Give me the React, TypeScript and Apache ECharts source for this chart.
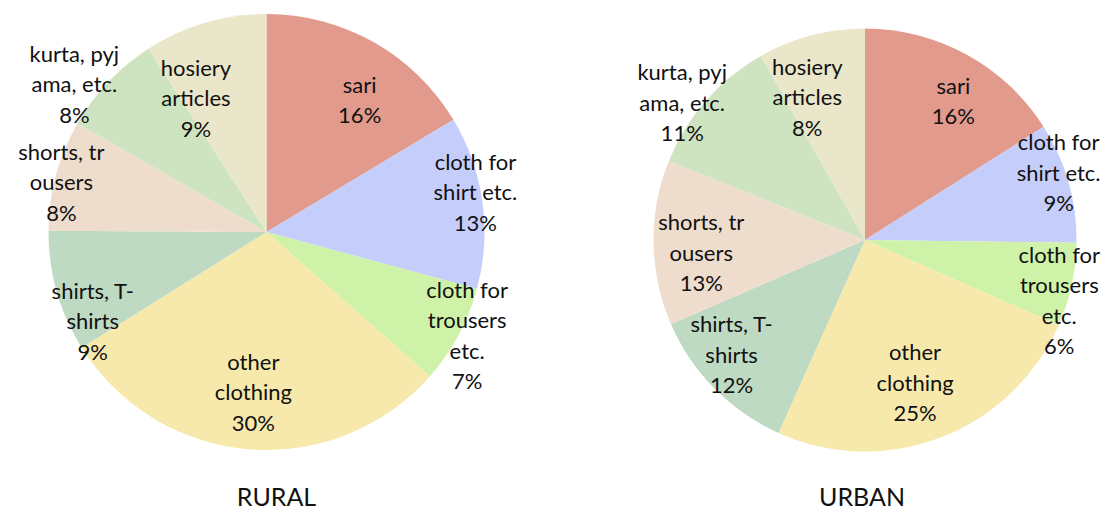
import React, { useEffect, useRef } from "react";
import * as echarts from "echarts";

const categories = [
  "sari",
  "cloth for shirt etc.",
  "cloth for trousers etc.",
  "other clothing",
  "shirts, T-shirts",
  "shorts, trousers",
  "kurta, pyjama, etc.",
  "hosiery articles",
];
// label text as wrapped in the reference
const labelLines = [
  ["sari"],
  ["cloth for", "shirt etc."],
  ["cloth for", "trousers", "etc."],
  ["other", "clothing"],
  ["shirts, T-", "shirts"],
  ["shorts, tr", "ousers"],
  ["kurta, pyj", "ama, etc."],
  ["hosiery", "articles"],
];
const ruralValues = [16.4, 12.8, 7.3, 29.6, 9.0, 8.2, 7.6, 9.1];
const urbanValues = [16.0, 9.2, 6.4, 25.1, 11.8, 12.6, 10.7, 8.2];
const colors = [
  "#E19A8C",
  "#C5CEFA",
  "#CEF2A8",
  "#F6E9AB",
  "#BFDAC2",
  "#EEDDCC",
  "#CEE4C1",
  "#EAE6CA",
];
const titles = ["RURAL", "URBAN"];

// label offsets (px) from the default inside position, per slice
const ruralLabelOffsets = [
  [38, -35], [98, -25], [102, 50], [-4, 48], [-66, 58], [-97, -21], [-111, -71], [-39, -27],
];
const urbanLabelOffsets = [
  [36, -44], [89, -38], [88, 37], [11, 41], [-56, 38], [-55, 11], [-101, -66], [-30, -38],
];

const FONT = "Lato, 'Open Sans', sans-serif";

function makeSeries(values: number[], center: number[], radius: number, offsets: number[][]) {
  return {
    type: "pie",
    center,
    radius: [0, radius],
    startAngle: 90,
    clockwise: true,
    avoidLabelOverlap: false,
    data: values.map((v, i) => ({
      name: categories[i],
      value: v,
      itemStyle: { color: colors[i] },
    })),
    label: {
      show: true,
      position: "inside",
      color: "#111",
      fontFamily: FONT,
      fontSize: 22,
      lineHeight: 30.5,
      align: "center",
      formatter: (p: any) =>
        [...labelLines[p.dataIndex], Math.round(p.percent) + "%"].join("\n"),
    },
    labelLine: { show: false },
    labelLayout: (p: any) => ({
      dx: offsets[p.dataIndex][0],
      dy: offsets[p.dataIndex][1],
    }),
    emphasis: { disabled: true },
  };
}

export default function App() {
  const ref = useRef<HTMLDivElement>(null);
  useEffect(() => {
    document.body.style.margin = "0";
    const chart = echarts.init(ref.current!, undefined, { renderer: "svg" });
    chart.setOption({
      animation: false,
      backgroundColor: "#ffffff",
      series: [
        makeSeries(ruralValues, [266.5, 232], 218, ruralLabelOffsets),
        makeSeries(urbanValues, [865, 240], 211.5, urbanLabelOffsets),
      ],
      graphic: [
        {
          type: "text",
          x: 276.5,
          y: 496,
          style: {
            text: titles[0],
            fontFamily: FONT,
            fontSize: 25,
            fill: "#111",
            textAlign: "center",
            textVerticalAlign: "middle",
          },
        },
        {
          type: "text",
          x: 862,
          y: 496,
          style: {
            text: titles[1],
            fontFamily: FONT,
            fontSize: 25,
            fill: "#111",
            textAlign: "center",
            textVerticalAlign: "middle",
          },
        },
      ],
    });
    return () => chart.dispose();
  }, []);
  return <div ref={ref} style={{ width: 1101, height: 510 }} />;
}
